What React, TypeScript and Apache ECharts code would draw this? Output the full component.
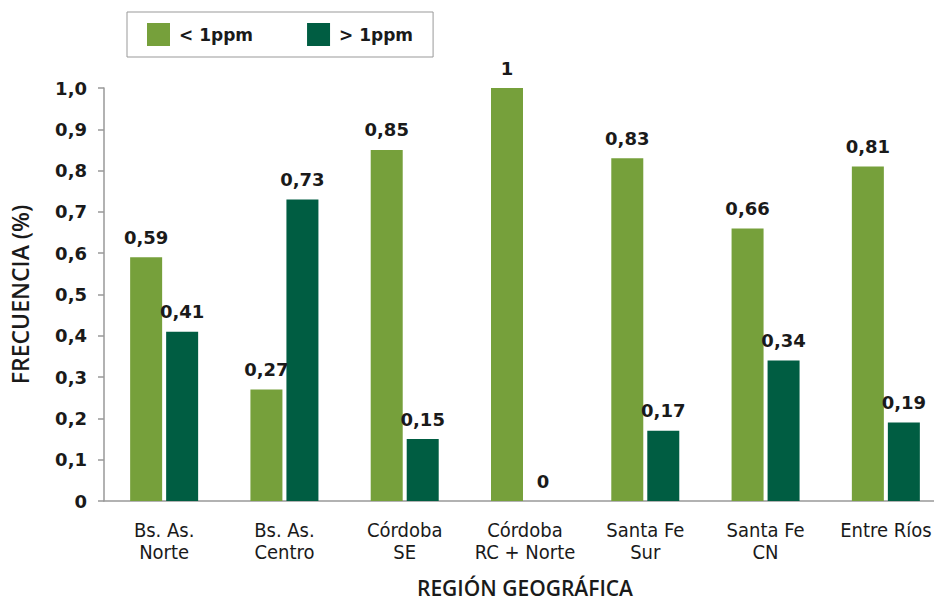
import React, { useEffect, useRef } from "react";
import * as echarts from "echarts";

const regions = [
  "Bs. As.\nNorte",
  "Bs. As.\nCentro",
  "Córdoba\nSE",
  "Córdoba\nRC + Norte",
  "Santa Fe\nSur",
  "Santa Fe\nCN",
  "Entre Ríos",
];
const below1ppm = [0.59, 0.27, 0.85, 1, 0.83, 0.66, 0.81];
const above1ppm = [0.41, 0.73, 0.15, 0, 0.17, 0.34, 0.19];
const seriesNames = ["< 1ppm", "> 1ppm"];

const GREEN = "#76A03B";
const DARK = "#005D42";
const TEXT = "#1a1a1a";
const BOLD_FONT = "'DejaVu Sans', sans-serif";
const LABEL_FONT = "'Open Sans', sans-serif";
const NARROW_FONT = "'DejaVu Sans Condensed', 'Liberation Sans Narrow', 'Open Sans', sans-serif";

const fmtValue = (v: number) =>
  Number.isInteger(v) ? String(v) : v.toFixed(2).replace(".", ",");

export default function App() {
  const ref = useRef<HTMLDivElement>(null);

  useEffect(() => {
    if (!ref.current) return;
    document.body.style.margin = "0";
    const chart = echarts.init(ref.current, null, { renderer: "svg" });

    const valueLabel = {
      show: true,
      position: "top",
      distance: 11,
      color: TEXT,
      fontFamily: BOLD_FONT,
      fontWeight: "bold",
      fontSize: 18,
      formatter: (p: any) => fmtValue(p.value),
    };

    chart.setOption({
      animation: false,
      backgroundColor: "#ffffff",
      legend: {
        left: 127,
        top: 12,
        padding: [11, 20, 11, 20],
        borderColor: "#999",
        borderWidth: 1,
        itemWidth: 23,
        itemHeight: 23,
        itemGap: 54,
        icon: "rect",
        textStyle: {
          color: TEXT,
          fontFamily: BOLD_FONT,
          fontWeight: "bold",
          fontSize: 17,
          padding: [0, 0, 0, 4],
        },
        data: seriesNames,
      },
      grid: {
        left: 104,
        top: 88,
        width: 842,
        height: 413,
        outerBoundsMode: "none",
        containLabel: false,
      },
      xAxis: {
        type: "category",
        data: regions,
        name: "REGIÓN GEOGRÁFICA",
        nameLocation: "middle",
        nameGap: 76,
        nameTextStyle: {
          color: TEXT,
          fontFamily: LABEL_FONT,
          fontSize: 21,
          lineHeight: 21,
          fontWeight: 600,
        },
        axisLine: { lineStyle: { color: "#999", width: 1.5 } },
        axisTick: { length: 7, lineStyle: { color: "#999", width: 1.5 } },
        axisLabel: {
          color: TEXT,
          fontFamily: NARROW_FONT,
          fontSize: 20,
          lineHeight: 22,
          margin: 18,
          interval: 0,
        },
      },
      yAxis: {
        type: "value",
        min: 0,
        max: 1,
        interval: 0.1,
        name: "FRECUENCIA (%)",
        nameLocation: "middle",
        nameGap: 73,
        nameRotate: 90,
        nameTextStyle: {
          color: TEXT,
          fontFamily: LABEL_FONT,
          fontSize: 23,
          fontWeight: 600,
        },
        splitLine: { show: false },
        axisLine: { show: true, lineStyle: { color: "#999", width: 1.5 } },
        axisTick: { show: true, length: 6, lineStyle: { color: "#999", width: 1.5 } },
        axisLabel: {
          color: TEXT,
          fontFamily: BOLD_FONT,
          fontWeight: "bold",
          fontSize: 18,
          margin: 17,
          formatter: (v: number) =>
            v === 0 ? "0" : v.toFixed(1).replace(".", ","),
        },
      },
      series: [
        {
          name: seriesNames[0],
          type: "bar",
          data: below1ppm,
          barWidth: 32,
          barGap: "12.5%",
          itemStyle: { color: GREEN },
          label: valueLabel,
        },
        {
          name: seriesNames[1],
          type: "bar",
          data: above1ppm,
          barWidth: 32,
          itemStyle: { color: DARK },
          label: valueLabel,
        },
      ],
    });

    return () => chart.dispose();
  }, []);

  return <div ref={ref} style={{ width: 934, height: 600 }} />;
}
